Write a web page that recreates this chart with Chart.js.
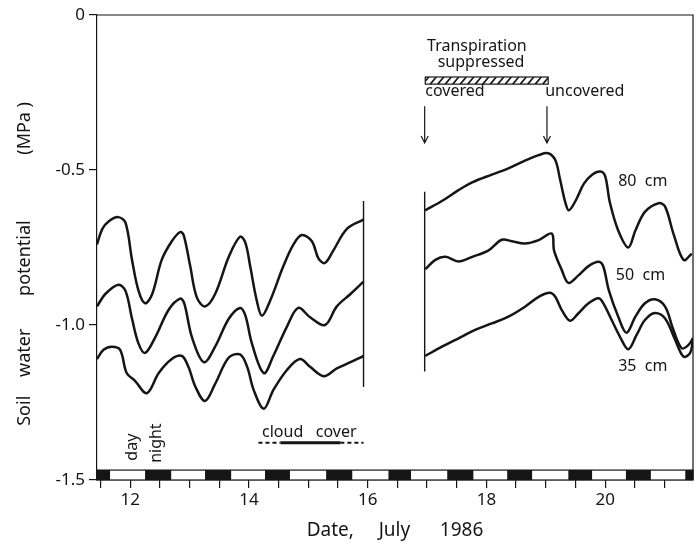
<!DOCTYPE html>
<html>
<head>
<meta charset="utf-8">
<title>Soil water potential, July 1986</title>
<script src="https://cdn.jsdelivr.net/npm/chart.js@4.4.1/dist/chart.umd.min.js"></script>
<style>
  html, body { margin: 0; padding: 0; background: #fff; }
  #wrap { width: 699px; height: 545px; }
</style>
</head>
<body>
<div id="wrap"><canvas id="chart" width="699" height="545"></canvas></div>
<script>
// 80 cm depth, before and after the gap (day of July 1986, MPa)
const day80a = [11.44, 11.53, 11.64, 11.80, 11.92, 12.03, 12.14, 12.25, 12.37, 12.53, 12.70, 12.84, 12.90, 13.01, 13.12, 13.26, 13.43, 13.66, 13.85, 13.94, 14.02, 14.13, 14.22, 14.36, 14.58, 14.75, 14.89, 15.06, 15.17, 15.28, 15.42, 15.65, 15.93];
const psi80a = [-0.74, -0.69, -0.665, -0.652, -0.67, -0.79, -0.89, -0.93, -0.90, -0.79, -0.73, -0.70, -0.71, -0.81, -0.91, -0.94, -0.90, -0.78, -0.715, -0.735, -0.81, -0.92, -0.97, -0.92, -0.81, -0.74, -0.71, -0.73, -0.785, -0.80, -0.76, -0.69, -0.66];
const day80b = [16.97, 17.25, 17.53, 17.76, 18.09, 18.37, 18.65, 18.88, 19.04, 19.16, 19.24, 19.33, 19.39, 19.50, 19.64, 19.78, 19.92, 20.00, 20.08, 20.22, 20.39, 20.51, 20.67, 20.90, 21.01, 21.15, 21.32, 21.46];
const psi80b = [-0.63, -0.60, -0.565, -0.54, -0.515, -0.495, -0.47, -0.452, -0.446, -0.468, -0.53, -0.605, -0.63, -0.60, -0.545, -0.515, -0.505, -0.52, -0.605, -0.695, -0.75, -0.695, -0.635, -0.607, -0.618, -0.705, -0.79, -0.77];

// 50 cm
const day50a = [11.44, 11.58, 11.80, 11.92, 12.03, 12.14, 12.25, 12.42, 12.65, 12.84, 12.91, 13.04, 13.24, 13.43, 13.66, 13.85, 13.94, 14.05, 14.25, 14.41, 14.64, 14.83, 15.03, 15.28, 15.48, 15.71, 15.93];
const psi50a = [-0.94, -0.90, -0.87, -0.89, -0.98, -1.06, -1.09, -1.04, -0.95, -0.915, -0.93, -1.04, -1.12, -1.07, -0.98, -0.945, -0.97, -1.06, -1.155, -1.10, -1.005, -0.945, -0.975, -1.00, -0.94, -0.90, -0.86];
const day50b = [16.97, 17.14, 17.31, 17.53, 17.76, 18.03, 18.26, 18.43, 18.65, 18.88, 19.10, 19.14, 19.27, 19.38, 19.55, 19.72, 19.89, 19.97, 20.06, 20.22, 20.36, 20.51, 20.67, 20.84, 21.01, 21.15, 21.29, 21.40, 21.48];
const psi50b = [-0.82, -0.79, -0.78, -0.795, -0.78, -0.76, -0.725, -0.73, -0.737, -0.726, -0.705, -0.76, -0.823, -0.864, -0.84, -0.81, -0.796, -0.812, -0.887, -0.973, -1.025, -0.973, -0.93, -0.917, -0.941, -1.016, -1.075, -1.065, -1.043];

// 35 cm
const day35a = [11.44, 11.55, 11.69, 11.83, 11.94, 12.08, 12.28, 12.48, 12.70, 12.87, 12.98, 13.10, 13.26, 13.43, 13.66, 13.85, 13.97, 14.08, 14.25, 14.41, 14.64, 14.86, 15.03, 15.26, 15.48, 15.71, 15.93];
const psi35a = [-1.11, -1.08, -1.07, -1.08, -1.155, -1.18, -1.22, -1.155, -1.11, -1.10, -1.135, -1.20, -1.245, -1.19, -1.105, -1.095, -1.135, -1.21, -1.27, -1.21, -1.145, -1.11, -1.135, -1.165, -1.14, -1.12, -1.10];
const day35b = [16.97, 17.25, 17.53, 17.81, 18.09, 18.37, 18.65, 18.88, 19.07, 19.16, 19.27, 19.41, 19.55, 19.72, 19.89, 19.97, 20.11, 20.25, 20.39, 20.53, 20.67, 20.84, 21.01, 21.18, 21.32, 21.43, 21.48];
const psi35b = [-1.10, -1.07, -1.043, -1.016, -0.995, -0.973, -0.941, -0.909, -0.896, -0.909, -0.952, -0.986, -0.962, -0.930, -0.914, -0.930, -0.984, -1.038, -1.078, -1.032, -0.984, -0.961, -0.979, -1.048, -1.102, -1.091, -1.048];

// vertical marks at the ends of the record gap
const cutDay = [15.93, 16.96];
const cutTop = [-0.60, -0.57];
const cutBottom = [-1.20, -1.15];

// cloud cover bar: dashed / solid / dashed
const cloudDashA = [14.16, 14.53];
const cloudSolid = [14.53, 15.54];
const cloudDashB = [15.54, 15.93];
const cloudPsi = -1.38;

// nights on the bottom strip
const nightStart = [11.44, 12.25, 13.26, 14.27, 15.30, 16.35, 17.34, 18.35, 19.38, 20.35, 21.35];
const nightEnd = [11.66, 12.69, 13.70, 14.69, 15.74, 16.73, 17.78, 18.77, 19.78, 20.77, 21.48];

// transpiration suppressed period and arrows
const coverFrom = 16.97;
const coverTo = 19.04;
const arrowDay = [16.96, 19.02];

// notes
const notes = ['Transpiration', 'suppressed', 'covered', 'uncovered', '80  cm', '50  cm', '35  cm', 'cloud   cover'];
const noteDay = [17.84, 17.91, 16.97, 18.99, 20.22, 20.18, 20.22, 14.22];
const notePsi = [-0.100, -0.152, -0.248, -0.248, -0.537, -0.839, -1.134, -1.345];
const noteAlign = ['center', 'center', 'left', 'left', 'left', 'left', 'left', 'left'];
const sideNotes = ['day', 'night'];
const sideDay = [12.04, 12.44];
const sidePsi = [-1.394, -1.381];

const ink = '#151515';
const font = '"Noto Sans", "DejaVu Sans", sans-serif';

const pts = (xs, ys) => xs.map((x, i) => ({ x: x, y: ys[i] }));

const curve = (xs, ys) => ({
  data: pts(xs, ys),
  showLine: true,
  borderColor: ink,
  borderWidth: 2.5,
  pointRadius: 0,
  tension: 0.35,
  fill: false
});

const straight = (xs, ys, width, dash) => ({
  data: pts(xs, ys),
  showLine: true,
  borderColor: ink,
  borderWidth: width,
  borderDash: dash || [],
  pointRadius: 0,
  tension: 0,
  fill: false
});

const datasets = [
  curve(day80a, psi80a), curve(day80b, psi80b),
  curve(day50a, psi50a), curve(day50b, psi50b),
  curve(day35a, psi35a), curve(day35b, psi35b),
  straight([cutDay[0], cutDay[0]], [cutTop[0], cutBottom[0]], 1.4),
  straight([cutDay[1], cutDay[1]], [cutTop[1], cutBottom[1]], 1.4),
  straight(cloudDashA, [cloudPsi, cloudPsi], 2, [4, 3]),
  straight(cloudSolid, [cloudPsi, cloudPsi], 3),
  straight(cloudDashB, [cloudPsi, cloudPsi], 2, [4, 3])
];

const extras = {
  id: 'extras',
  afterDatasetsDraw(chart) {
    const { ctx, chartArea: a, scales: { x, y } } = chart;
    ctx.save();
    ctx.strokeStyle = ink;
    ctx.fillStyle = ink;

    // top and right frame
    ctx.lineWidth = 1.2;
    ctx.beginPath();
    ctx.moveTo(a.left, a.top);
    ctx.lineTo(a.right, a.top);
    ctx.lineTo(a.right, a.bottom);
    ctx.stroke();

    // day / night strip
    const st = y.getPixelForValue(-1.468);
    const sb = y.getPixelForValue(-1.5);
    ctx.fillStyle = '#fff';
    ctx.fillRect(a.left, st, a.right - a.left, sb - st);
    ctx.strokeRect(a.left, st, a.right - a.left, sb - st);
    ctx.fillStyle = ink;
    nightStart.forEach((s, i) => {
      const x0 = x.getPixelForValue(s);
      const x1 = x.getPixelForValue(nightEnd[i]);
      ctx.fillRect(x0, st, x1 - x0, sb - st);
    });

    // hatched bar
    const hx0 = x.getPixelForValue(coverFrom);
    const hx1 = x.getPixelForValue(coverTo);
    const hy0 = y.getPixelForValue(-0.200);
    const hy1 = y.getPixelForValue(-0.223);
    ctx.lineWidth = 1.2;
    ctx.strokeRect(hx0, hy0, hx1 - hx0, hy1 - hy0);
    ctx.save();
    ctx.beginPath();
    ctx.rect(hx0, hy0, hx1 - hx0, hy1 - hy0);
    ctx.clip();
    ctx.lineWidth = 1.6;
    for (let hx = hx0 - 10; hx < hx1 + 10; hx += 7.5) {
      ctx.beginPath();
      ctx.moveTo(hx, hy1);
      ctx.lineTo(hx + 6, hy0);
      ctx.stroke();
    }
    ctx.restore();

    // arrows
    const ay0 = y.getPixelForValue(-0.294);
    const ay1 = y.getPixelForValue(-0.413);
    ctx.lineWidth = 1.2;
    arrowDay.forEach(d => {
      const ax = x.getPixelForValue(d);
      ctx.beginPath();
      ctx.moveTo(ax, ay0);
      ctx.lineTo(ax, ay1);
      ctx.moveTo(ax - 3.5, ay1 - 7);
      ctx.lineTo(ax, ay1);
      ctx.lineTo(ax + 3.5, ay1 - 7);
      ctx.stroke();
    });

    // notes
    ctx.fillStyle = ink;
    ctx.font = '16px ' + font;
    ctx.textBaseline = 'middle';
    notes.forEach((t, i) => {
      ctx.textAlign = noteAlign[i];
      ctx.fillText(t, x.getPixelForValue(noteDay[i]), y.getPixelForValue(notePsi[i]));
    });
    ctx.textAlign = 'center';
    sideNotes.forEach((t, i) => {
      ctx.save();
      ctx.translate(x.getPixelForValue(sideDay[i]), y.getPixelForValue(sidePsi[i]));
      ctx.rotate(-Math.PI / 2);
      ctx.fillText(t, 0, 0);
      ctx.restore();
    });
    ctx.restore();
  }
};

new Chart(document.getElementById('chart'), {
  type: 'scatter',
  data: { datasets: datasets },
  plugins: [extras],
  options: {
    responsive: false,
    animation: false,
    layout: { padding: { top: 15, right: 6, left: 0, bottom: 0 } },
    plugins: { legend: { display: false }, tooltip: { enabled: false } },
    scales: {
      x: {
        type: 'linear',
        min: 11.44,
        max: 21.48,
        afterFit: s => { s.height = 65; },
        border: { display: true, color: ink, width: 1.2 },
        grid: { drawOnChartArea: false, drawTicks: true, tickLength: 8, color: ink, lineWidth: 1.2 },
        ticks: {
          stepSize: 0.5,
          includeBounds: false,
          autoSkip: false,
          maxRotation: 0,
          padding: 2,
          color: ink,
          font: { family: font, size: 17 },
          callback: v => (Number.isInteger(v) && v % 2 === 0) ? String(v) : ''
        },
        title: {
          display: true,
          text: 'Date,     July      1986',
          color: ink,
          font: { family: font, size: 19 },
          padding: { top: 0, bottom: 3 }
        }
      },
      y: {
        min: -1.5,
        max: 0,
        afterFit: s => { s.width = 97; },
        border: { display: true, color: ink, width: 1.2 },
        grid: { drawOnChartArea: false, drawTicks: true, tickLength: 8, color: ink, lineWidth: 1.2 },
        ticks: {
          stepSize: 0.5,
          padding: 4,
          color: ink,
          font: { family: font, size: 17 },
          callback: v => v === 0 ? '0' : v.toFixed(1)
        },
        title: {
          display: true,
          text: 'Soil    water       potential              (MPa )       ',
          color: ink,
          font: { family: font, size: 18 },
          padding: { top: 14, bottom: 0 }
        }
      }
    }
  }
});
</script>
</body>
</html>
